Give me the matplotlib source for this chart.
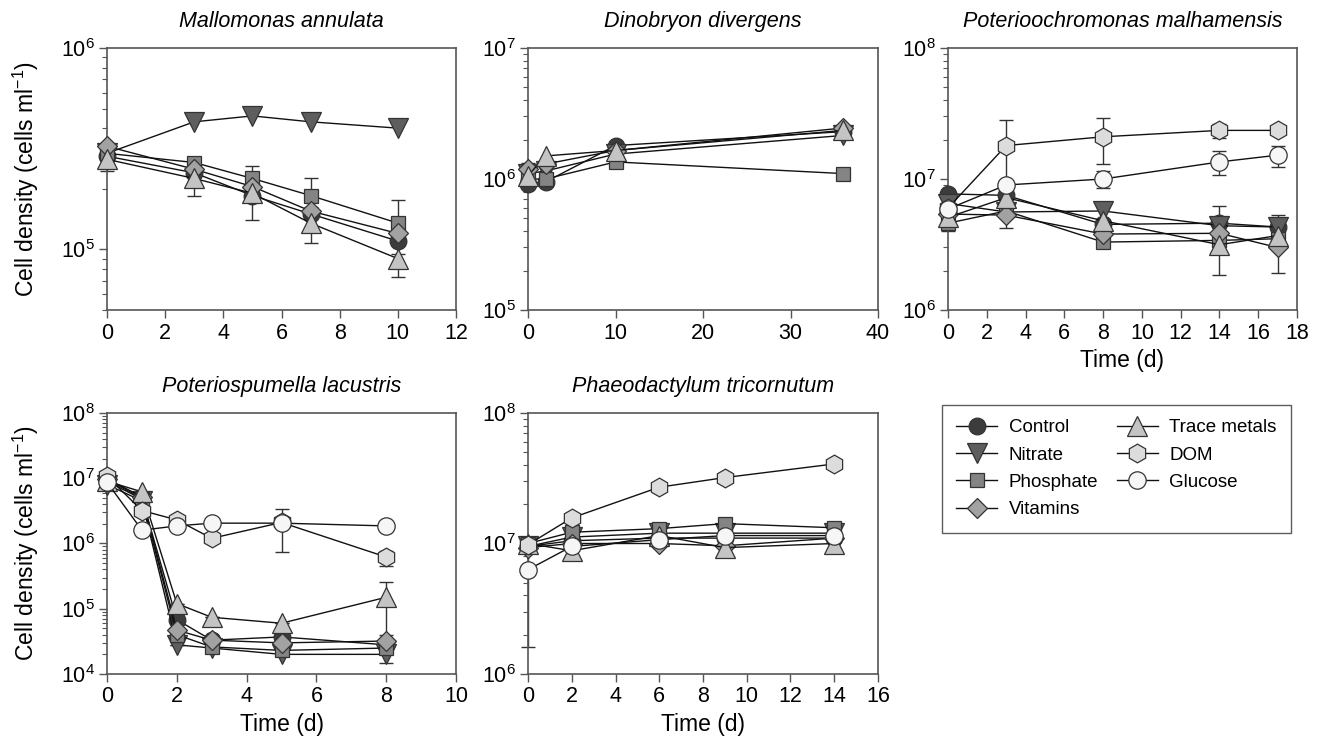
import matplotlib
matplotlib.use("Agg")
import matplotlib.pyplot as plt
import matplotlib.ticker as mticker

plt.rcParams['font.family'] = ['Liberation Sans', 'DejaVu Sans']
plt.rcParams['mathtext.fontset'] = 'custom'
plt.rcParams['mathtext.rm'] = 'Liberation Sans'
plt.rcParams['mathtext.it'] = 'Liberation Sans:italic'

# ---- data (cells per ml) ----
names = ["Control", "Nitrate", "Phosphate", "Vitamins", "Trace metals", "DOM", "Glucose"]

mallo_t = [0, 3, 5, 7, 10]
mallo = {
    "Control":      [2.9e5, 2.4e5, 1.85e5, 1.5e5, 1.1e5],
    "Nitrate":      [3.0e5, 4.3e5, 4.6e5, 4.3e5, 4.0e5],
    "Phosphate":    [3.0e5, 2.7e5, 2.25e5, 1.85e5, 1.35e5],
    "Vitamins":     [3.25e5, 2.5e5, 2.05e5, 1.55e5, 1.2e5],
    "Trace metals": [2.8e5, 2.25e5, 1.9e5, 1.35e5, 0.9e5],
}
mallo_sd = {
    "Control":      [0.45e5, 0, 0.45e5, 0, 0],
    "Phosphate":    [0, 0, 0.33e5, 0.42e5, 0.4e5],
    "Trace metals": [0, 0.4e5, 0, 0.28e5, 0.17e5],
}

dino_t = [0, 2, 10, 36]
dino = {
    "Control":      [0.92e6, 0.95e6, 1.8e6, 2.3e6],
    "Nitrate":      [1.1e6, 1.15e6, 1.55e6, 2.15e6],
    "Phosphate":    [1.0e6, 1.0e6, 1.35e6, 1.1e6],
    "Vitamins":     [1.2e6, 1.3e6, 1.65e6, 2.45e6],
    "Trace metals": [1.06e6, 1.5e6, 1.65e6, 2.35e6],
}
dino_sd = {
    "Vitamins": [0.12e6, 0, 0, 0],
}

pot_t = [0, 3, 8, 14, 17]
pot = {
    "Control":      [7.7e6, 7.5e6, 4.5e6, 4.6e6, 4.3e6],
    "Nitrate":      [6.5e6, 5.6e6, 5.7e6, 4.4e6, 4.3e6],
    "Phosphate":    [4.6e6, 5.7e6, 3.3e6, 3.4e6, 3.5e6],
    "Vitamins":     [5.4e6, 5.3e6, 3.8e6, 3.85e6, 3.0e6],
    "Trace metals": [5.1e6, 7.2e6, 4.8e6, 3.15e6, 3.7e6],
    "DOM":          [6.0e6, 1.8e7, 2.1e7, 2.35e7, 2.35e7],
    "Glucose":      [5.9e6, 9.0e6, 1.0e7, 1.35e7, 1.52e7],
}
pot_sd = {
    "Control":      [0, 0, 0, 1.6e6, 1.0e6],
    "Phosphate":    [0.6e6, 0, 0, 0, 0],
    "Vitamins":     [0, 1.1e6, 0, 0, 1.1e6],
    "Trace metals": [0, 0, 0, 1.3e6, 0],
    "DOM":          [0, 1.0e7, 0.8e7, 0.3e7, 0],
    "Glucose":      [0, 0, 0.15e7, 0.28e7, 0.28e7],
}

spu_t = [0, 1, 2, 3, 5, 8]
spu = {
    "Control":      [9.5e6, 5.0e6, 6.8e4, 3.3e4, 3.7e4, 2.8e4],
    "Nitrate":      [8.0e6, 4.5e6, 2.8e4, 2.5e4, 2.0e4, 2.0e4],
    "Phosphate":    [9.0e6, 4.8e6, 4.0e4, 2.6e4, 2.3e4, 2.5e4],
    "Vitamins":     [9.8e6, 5.2e6, 4.7e4, 3.3e4, 3.0e4, 3.2e4],
    "Trace metals": [9.0e6, 6.2e6, 1.2e5, 7.4e4, 6.0e4, 1.5e5],
    "DOM":          [1.07e7, 3.2e6, 2.3e6, 1.2e6, 2.1e6, 6.2e5],
    "Glucose":      [8.7e6, 1.6e6, 1.86e6, 2.05e6, 2.05e6, 1.86e6],
}
spu_sd = {
    "Nitrate":      [0, 0, 0, 0, 0, 0.5e4],
    "Trace metals": [0, 0, 0, 0, 0, 1.1e5],
    "DOM":          [0, 0, 0, 0, 0, 1.6e5],
    "Glucose":      [0, 0, 0, 0, 1.3e6, 0],
}

pha_t = [0, 2, 6, 9, 14]
pha = {
    "Control":      [9.5e6, 1.05e7, 1.1e7, 1.1e7, 1.1e7],
    "Nitrate":      [9.5e6, 1.12e7, 1.2e7, 1.2e7, 1.2e7],
    "Phosphate":    [1.0e7, 1.22e7, 1.3e7, 1.42e7, 1.32e7],
    "Vitamins":     [9.3e6, 1.0e7, 1.0e7, 9.6e6, 1.1e7],
    "Trace metals": [1.0e7, 8.8e6, 1.15e7, 9.3e6, 1.0e7],
    "DOM":          [9.8e6, 1.57e7, 2.7e7, 3.2e7, 4.07e7],
    "Glucose":      [6.3e6, 9.5e6, 1.07e7, 1.15e7, 1.15e7],
}
pha_sd = {
    "Glucose": [4.7e6, 0, 0, 0, 0],
}

# ---- styles ----
style = {
    "Control":      dict(marker="o", ms=12, mfc="#3c3c3c"),
    "Nitrate":      dict(marker="v", ms=14, mfc="#5e5e5e"),
    "Phosphate":    dict(marker="s", ms=10.5, mfc="#848484"),
    "Vitamins":     dict(marker="D", ms=10, mfc="#a2a2a2"),
    "Trace metals": dict(marker="^", ms=14, mfc="#c4c4c4"),
    "DOM":          dict(marker="h", ms=13.5, mfc="#dcdcdc"),
    "Glucose":      dict(marker="o", ms=12.5, mfc="#f6f6f6"),
}

W, H = 1321, 744
fig = plt.figure(figsize=(W / 100, H / 100), dpi=100)


def px_axes(x0, y0, x1, y1):
    return fig.add_axes([x0 / W, 1 - y1 / H, (x1 - x0) / W, (y1 - y0) / H])


def panel(ax, t, data, sd, title, xlim, xstep, ylim):
    for n in names:
        if n not in data:
            continue
        st = style[n]
        err = sd.get(n)
        if err is not None:
            ax.errorbar(t, data[n], yerr=err, fmt="none", ecolor="#333333",
                        elinewidth=1, capsize=5, capthick=1, zorder=2, clip_on=False)
        ax.plot(t, data[n], color="#111111", lw=1, marker=st["marker"], ms=st["ms"],
                mfc=st["mfc"], mec="#333333", mew=0.9, zorder=3, clip_on=False)
    ax.set_yscale("log")
    ax.set_xlim(*xlim)
    ax.set_ylim(*ylim)
    ax.xaxis.set_major_locator(mticker.MultipleLocator(xstep))
    ax.yaxis.set_major_locator(mticker.LogLocator(base=10, numticks=10))
    ax.yaxis.set_minor_locator(mticker.LogLocator(base=10, subs=range(2, 10), numticks=10))
    ax.yaxis.set_minor_formatter(mticker.NullFormatter())
    ax.set_title(title, style="italic", fontsize=15.5, pad=15)
    for s in ax.spines.values():
        s.set_color("#555555")
        s.set_linewidth(1.2)
    ax.tick_params(which="major", direction="out", length=6, width=1, color="#555555",
                   labelsize=15.5, pad=3)
    ax.tick_params(which="minor", direction="out", length=3.5, width=0.8, color="#555555")


ylab = "Cell density (cells ml$^{-1}$)"

ax1 = px_axes(107, 48, 456, 310)
panel(ax1, mallo_t, mallo, mallo_sd, "Mallomonas annulata", (0, 12), 2, (5e4, 1e6))
ax1.set_ylabel(ylab, fontsize=16.5, labelpad=14)

ax2 = px_axes(528, 48, 878, 310)
panel(ax2, dino_t, dino, dino_sd, "Dinobryon divergens", (0, 40), 10, (1e5, 1e7))

ax3 = px_axes(948, 48, 1297, 310)
panel(ax3, pot_t, pot, pot_sd, "Poterioochromonas malhamensis", (0, 18), 2, (1e6, 1e8))
ax3.set_xlabel("Time (d)", fontsize=16.5, labelpad=4)

ax4 = px_axes(107, 413, 456, 674)
panel(ax4, spu_t, spu, spu_sd, "Poteriospumella lacustris", (0, 10), 2, (1e4, 1e8))
ax4.set_ylabel(ylab, fontsize=16.5, labelpad=14)
ax4.set_xlabel("Time (d)", fontsize=16.5, labelpad=4)

ax5 = px_axes(528, 413, 878, 674)
panel(ax5, pha_t, pha, pha_sd, "Phaeodactylum tricornutum", (0, 16), 2, (1e6, 1e8))
ax5.set_xlabel("Time (d)", fontsize=16.5, labelpad=4)

# legend
handles = []
for n in names:
    st = style[n]
    h, = ax5.plot([], [], color="#111111", lw=1, marker=st["marker"], ms=st["ms"],
                  mfc=st["mfc"], mec="#333333", mew=0.9)
    handles.append(h)
leg = fig.legend(handles, names, loc="upper left", bbox_to_anchor=(942 / W, 1 - 405 / H),
                 borderaxespad=0, ncol=2, fontsize=13.5, frameon=True, fancybox=False,
                 handlelength=2.2, columnspacing=1.0, labelspacing=0.55, borderpad=0.75,
                 handletextpad=0.6)
leg.get_frame().set_edgecolor("#333333")
leg.get_frame().set_linewidth(1)

fig.savefig("out.png", dpi=100)
